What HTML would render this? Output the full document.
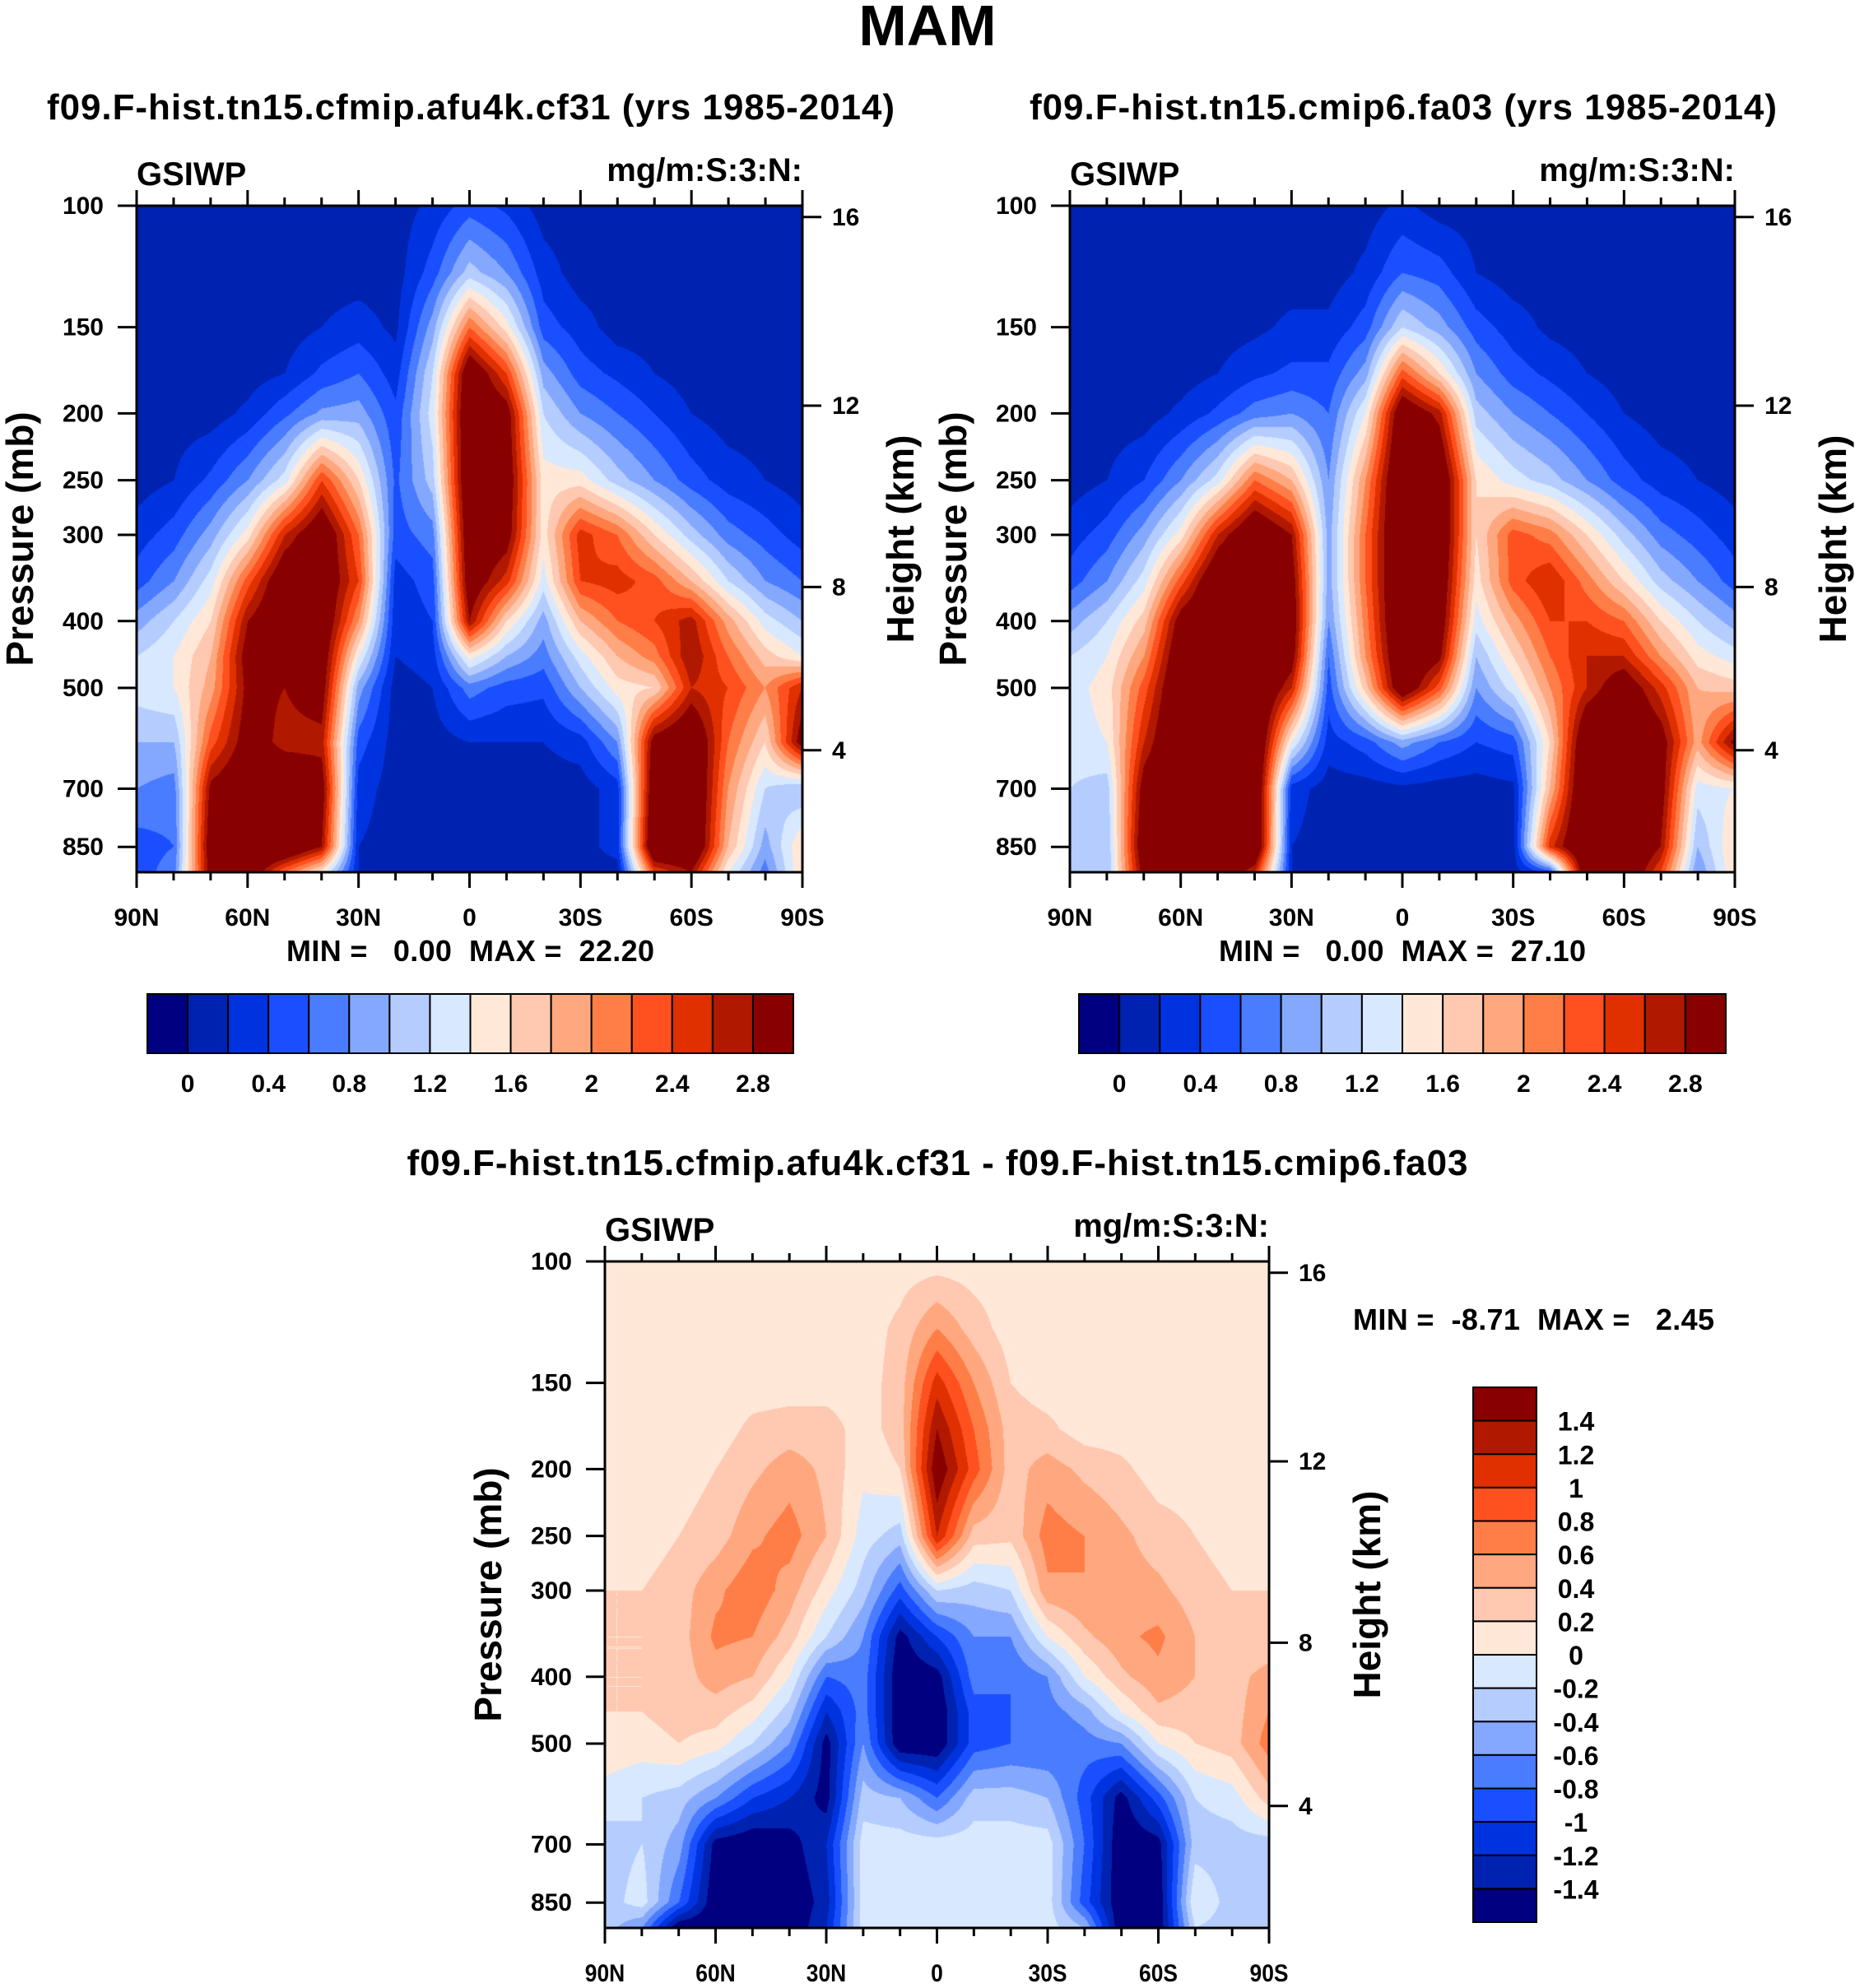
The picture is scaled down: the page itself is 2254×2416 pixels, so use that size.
<!DOCTYPE html>
<html><head><meta charset="utf-8"><style>
html,body{margin:0;padding:0;background:#fff;}
#wrap{position:relative;width:2254px;height:2416px;overflow:hidden;background:#fff;font-family:"Liberation Sans",sans-serif;}
canvas{position:absolute;}
#overlay{position:absolute;left:0;top:0;}
text{font-family:"Liberation Sans",sans-serif;font-weight:bold;fill:#000;}
</style></head><body>
<div id="wrap">
<canvas id="c1"></canvas>
<canvas id="c2"></canvas>
<canvas id="c3"></canvas>
<svg id="overlay" width="2254" height="2416"></svg>
</div>
<script>
const lats=[90,80,70,60,50,40,30,20,10,0,-10,-20,-30,-40,-50,-60,-70,-80,-90];
const pressures=[100,125,150,175,200,250,300,350,400,450,500,600,700,850,925];
const pressureTicks=[100,150,200,250,300,400,500,700,850];
const latTickLabels=["90N","60N","30N","0","30S","60S","90S"];
const heightTickLabels=["16","12","8","4"];
const topLevels=[0,0.2,0.4,0.6,0.8,1.0,1.2,1.4,1.6,1.8,2.0,2.2,2.4,2.6,2.8];
const topLevelLabels=["0","0.4","0.8","1.2","1.6","2","2.4","2.8"];
const diffLevels=[-1.4,-1.2,-1.0,-0.8,-0.6,-0.4,-0.2,0,0.2,0.4,0.6,0.8,1.0,1.2,1.4];
const diffLevelLabels=["1.4","1.2","1","0.8","0.6","0.4","0.2","0","-0.2","-0.4","-0.6","-0.8","-1","-1.2","-1.4"];
const palette=["#000080","#0022b0","#0033e0","#1a4fff","#4a7cff","#85a8ff","#b5ccff","#d8e8ff","#ffe8d8","#ffc8b0","#ffa880","#ff7e48","#ff5020","#e03000","#b01800","#880000"];
const valuesCf31=[
[.1,.1,.1,.1,.1,.1,.1,.1,.25,.5,.35,.1,.1,.1,.1,.1,.1,.1,.1],
[.1,.1,.1,.1,.1,.1,.1,.1,.5,1.1,.8,.3,.1,.1,.1,.1,.1,.1,.1],
[.1,.1,.1,.1,.1,.2,.3,.15,.9,2.2,1.5,.5,.3,.1,.1,.1,.1,.1,.1],
[.1,.1,.1,.1,.2,.45,.6,.3,1.2,3.2,2.4,.9,.5,.35,.2,.1,.1,.1,.1],
[.1,.1,.1,.25,.55,.85,.9,.45,1.3,3.3,3.0,1.2,.8,.6,.4,.2,.1,.1,.1],
[.1,.2,.45,.8,1.3,2.4,1.6,.55,1.1,3.3,3.1,1.5,1.5,1.1,.8,.5,.3,.2,.1],
[.3,.5,.9,1.5,2.6,3.2,2.2,.5,.7,3.2,3.0,1.5,2.5,2.2,1.6,1.1,.7,.5,.3],
[.5,.8,1.3,2.3,3.2,3.2,2.4,.3,.5,3.1,2.5,1.3,2.4,2.5,2.3,1.8,1.2,.8,.6],
[.9,1.2,1.6,2.8,3.3,3.2,2.0,.25,.4,2.8,1.6,.9,1.8,2.2,2.4,2.7,1.9,1.3,1.0],
[1.2,1.4,1.8,3.0,3.2,3.1,1.4,.2,.3,1.5,1.0,.7,1.3,1.8,2.1,2.8,2.2,1.7,1.4],
[1.3,1.4,1.9,2.9,2.8,3.0,0.9,.1,.2,.7,.5,.45,1.0,1.5,1.6,2.6,2.4,2.0,2.6],
[1.0,1.0,2.3,3.0,2.7,2.7,.5,.1,.1,.2,.2,.2,.3,.8,3.0,3.3,2.2,1.6,3.0],
[.8,.7,2.9,3.2,3.2,3.0,.3,.1,.1,.1,.1,.1,.1,.3,3.2,3.4,2.0,1.2,1.0],
[.5,.6,3.1,3.4,3.4,2.8,.2,.1,.1,.1,.1,.1,.1,.3,3.4,3.4,1.8,.9,1.6],
[.5,.7,3.0,3.2,2.2,1.5,.2,.1,.1,.1,.1,.1,.1,.1,2.4,2.8,1.4,.7,1.6]];
const valuesFa03=[
[.1,.1,.1,.1,.1,.1,.1,.1,.1,.25,.1,.1,.1,.1,.1,.1,.1,.1,.1],
[.1,.1,.1,.1,.1,.1,.1,.1,.25,.6,.5,.2,.1,.1,.1,.1,.1,.1,.1],
[.1,.1,.1,.1,.1,.15,.25,.25,.5,1.2,.9,.5,.3,.15,.1,.1,.1,.1,.1],
[.1,.1,.1,.1,.2,.35,.45,.45,.9,2.3,1.6,.8,.5,.35,.2,.1,.1,.1,.1],
[.1,.1,.1,.25,.45,.7,.8,.6,1.4,3.2,2.7,1.1,.8,.6,.4,.2,.1,.1,.1],
[.1,.2,.4,.8,1.3,2.2,1.8,.8,2.0,3.4,3.3,1.6,1.3,1.1,.8,.5,.3,.2,.1],
[.3,.5,.9,1.5,2.6,3.3,2.8,.9,2.2,3.4,3.3,1.6,2.3,2.1,1.6,1.1,.7,.5,.3],
[.5,.8,1.3,2.3,3.3,3.4,3.0,.9,2.2,3.4,3.2,1.5,2.3,2.6,2.1,1.6,1.1,.8,.5],
[.9,1.2,1.7,3.0,3.4,3.4,3.1,.8,2.1,3.4,3.1,1.3,1.9,2.4,2.4,2.2,1.6,1.2,.9],
[1.2,1.4,2.0,3.2,3.4,3.4,3.0,.6,2.0,3.3,2.9,1.0,1.6,2.2,2.6,2.6,2.0,1.5,1.3],
[1.3,1.5,2.3,3.3,3.4,3.4,2.6,.5,1.7,3.2,2.3,.8,1.3,2.0,2.6,3.1,2.5,1.8,1.7],
[1.3,1.4,2.6,3.4,3.4,3.4,1.4,.3,.5,.9,.6,.4,.5,1.6,3.3,3.4,3.0,1.9,2.9],
[1.2,1.1,3.0,3.4,3.4,3.4,.3,.1,.1,.15,.1,.1,.15,1.8,3.4,3.4,3.0,1.3,1.4],
[1.0,1.0,3.2,3.4,3.4,3.4,.2,.1,.1,.1,.1,.1,.1,2.5,3.4,3.4,2.8,1.0,1.6],
[1.0,1.0,3.0,3.4,3.3,2.6,.2,.1,.1,.1,.1,.1,.1,.5,3.3,3.3,2.4,.8,1.6]];
const valuesDiff=[
[.1,.1,.1,.1,.1,.1,.1,.1,.1,.1,.1,.1,.1,.1,.1,.1,.1,.1,.1],
[.1,.1,.1,.1,.1,.1,.1,.1,.25,.6,.3,.1,.1,.1,.1,.1,.1,.1,.1],
[.1,.1,.1,.1,.1,.1,.1,.1,.3,1.1,.6,.2,.1,.1,.1,.1,.1,.1,.1],
[.1,.1,.1,.1,.25,.3,.3,.1,.3,1.4,.8,.3,.25,.1,.1,.1,.1,.1,.1],
[.1,.1,.1,.2,.35,.5,.35,.05,.2,1.6,.9,.3,.5,.35,.25,.1,.1,.1,.1],
[.1,.1,.2,.3,.55,.7,.4,-.1,-.3,1.2,.3,.25,.7,.6,.45,.3,.2,.1,.1],
[.2,.2,.3,.55,.75,.5,.1,-.3,-.9,-.2,-.3,-.2,.55,.6,.5,.45,.3,.2,.2],
[.2,.2,.3,.65,.6,.3,-.2,-.6,-1.5,-1.0,-.6,-.6,.0,.35,.55,.65,.4,.2,.2],
[.2,.2,.3,.5,.4,.0,-.8,-.7,-1.6,-1.5,-.7,-.8,-.6,0,.35,.55,.4,.3,.5],
[.2,.2,.3,.3,.1,-.3,-1.2,-.7,-1.6,-1.6,-.9,-.8,-.7,-.5,0,.35,.3,.3,.6],
[.15,.1,.2,.1,-.2,-.6,-1.5,-.6,-1.6,-1.6,-.9,-.8,-.8,-.7,-.6,0,.2,.3,.7],
[-.1,-.2,-.3,-.6,-1.0,-1.2,-1.5,-.3,-.4,-.8,-.3,-.3,-.4,-.9,-1.5,-.9,-.2,-.1,.3],
[-.3,-.2,-.5,-1.5,-1.6,-1.5,-1.2,-.1,-.1,-.1,-.1,-.1,-.1,-.8,-1.6,-1.5,-.3,-.3,-.3],
[-.3,-.1,-.8,-1.6,-1.6,-1.6,-1.3,-.1,-.1,-.1,-.1,-.1,-.1,-.9,-1.6,-1.6,.0,-.3,-.3],
[-.3,-.6,-1.6,-1.6,-1.6,-1.6,-1.2,-.1,-.1,-.1,-.1,-.1,-.1,-.4,-1.6,-1.6,-.2,-.3,-.3]];

const NS='http://www.w3.org/2000/svg';
const svg=document.getElementById('overlay');
const P_TOP=100,P_BOT=925;
const heightFrac=[0.017,0.300,0.572,0.817];
function el(tag,parent){const e=document.createElementNS(NS,tag);(parent||svg).appendChild(e);return e;}
function set(e,o){for(const k in o)e.setAttribute(k,o[k]);return e;}
function txt(s,x,y,size,anchor,parent){const t=el('text',parent);set(t,{x:x,y:y,'font-size':size,'text-anchor':anchor||'start'});t.textContent=s;return t;}
function hex(c){return [parseInt(c.substr(1,2),16),parseInt(c.substr(3,2),16),parseInt(c.substr(5,2),16)];}
const palRGB=palette.map(hex);
function levelIndex(v,levels){let i=0;while(i<levels.length&&v>=levels[i])i++;return i;}

function drawField(id,px,py,W,H,data,levels){
  const c=document.getElementById(id);c.width=W;c.height=H;c.style.left=px+'px';c.style.top=py+'px';
  const ctx=c.getContext('2d');const img=ctx.createImageData(W,H);
  const lp=pressures.map(Math.log);const l0=Math.log(P_TOP),l1=Math.log(P_BOT);
  for(let y=0;y<H;y++){
    const l=l0+(y/(H-1))*(l1-l0);
    let r=0;while(r<lp.length-2&&l>lp[r+1])r++;
    const ty=Math.min(1,Math.max(0,(l-lp[r])/(lp[r+1]-lp[r])));
    for(let x=0;x<W;x++){
      const fx=x/(W-1)*(lats.length-1);let i=Math.min(Math.floor(fx),lats.length-2);const tx=fx-i;
      const v=(data[r][i]*(1-tx)+data[r][i+1]*tx)*(1-ty)+(data[r+1][i]*(1-tx)+data[r+1][i+1]*tx)*ty;
      const col=palRGB[levelIndex(v,levels)];const o=(y*W+x)*4;
      img.data[o]=col[0];img.data[o+1]=col[1];img.data[o+2]=col[2];img.data[o+3]=255;
    }
  }
  ctx.putImageData(img,0,0);
}
function yOfP(p,py,H){return py+(Math.log(p)-Math.log(P_TOP))/(Math.log(P_BOT)-Math.log(P_TOP))*H;}
function xOfLat(lat,px,W){return px+(90-lat)/180*W;}

function axes(px,py,W,H,cond){
  const g=el('g');
  
  
  const fs=30;
  set(el('rect',g),{x:px,y:py,width:W,height:H,fill:'none',stroke:'#000','stroke-width':3});
  for(let lat=90;lat>=-90;lat-=10){
    const x=xOfLat(lat,px,W);const major=lat%30===0;const L=major?19:10;
    set(el('line',g),{x1:x,y1:py,x2:x,y2:py-L,stroke:'#000','stroke-width':3});
    set(el('line',g),{x1:x,y1:py+H,x2:x,y2:py+H+L,stroke:'#000','stroke-width':3});
  }
  latTickLabels.forEach((s,k)=>{const xx=xOfLat(90-30*k,px,W);const t=txt(s,xx,py+H+65,fs,'middle',g);
    
    
    if(cond)t.setAttribute('transform','translate('+xx+',0) scale(0.88,1) translate('+(-xx)+',0)');});
  pressureTicks.forEach(p=>{const y=yOfP(p,py,H);
    set(el('line',g),{x1:px,y1:y,x2:px-23,y2:y,stroke:'#000','stroke-width':3});
    const t=txt(String(p),px-40,y+10,fs,'end',g);
    
    });
  heightTickLabels.forEach((s,k)=>{const y=py+heightFrac[k]*H;
    set(el('line',g),{x1:px+W,y1:y,x2:px+W+23,y2:y,stroke:'#000','stroke-width':3});
    const t=txt(s,px+W+36,y+10,fs,'start',g);
    
    });
  const gs=txt('GSIWP',px,py-25,40,'start',g);
  
  
  const un=txt('mg/m:S:3:N:',px+W,py-30,40,'end',g);
  
  
  const yt=txt('Pressure (mb)',0,0,46,'middle',g);
  set(yt,{transform:'translate('+(px-126)+','+(py+H/2)+') rotate(-90)'});
  
  
  const ht=txt('Height (km)',0,0,46,'middle',g);
  set(ht,{transform:'translate('+(px+W+135)+','+(py+H/2)+') rotate(-90)'});
  
  
}
function hColorbar(x0,y0,W,H){
  const g=el('g');
  
  
  const bw=W/palette.length;
  palette.forEach((c,i)=>{const r=el('rect',g);set(r,{x:x0+i*bw,y:y0,width:bw,height:H,fill:c,stroke:'#000','stroke-width':2});
    
    });
  topLevelLabels.forEach((s,k)=>{const t=txt(s,x0+(1+2*k)*bw,y0+H+47,30,'middle',g);
    
    });
}
function vColorbar(x0,y0,W,H){
  const g=el('g');
  
  
  const bh=H/palette.length;
  palette.slice().reverse().forEach((c,i)=>{const r=el('rect',g);set(r,{x:x0,y:y0+i*bh,width:W,height:bh,fill:c,stroke:'#000','stroke-width':2});
    
    });
  diffLevelLabels.forEach((s,k)=>{const t=txt(s,x0+W+48,y0+(k+1)*bh+12,32,'middle',g);
    
    });
}

drawField('c1',166,250,809,810,valuesCf31,topLevels);
drawField('c2',1300,250,808,810,valuesFa03,topLevels);
drawField('c3',735,1533,807,810,valuesDiff,diffLevels);
axes(166,250,809,810,false);
axes(1300,250,808,810,false);
axes(735,1533,807,810,true);
hColorbar(179,1208,785,72);
hColorbar(1311,1208,786,72);
vColorbar(1790,1686,77,650);

const t0=txt('MAM',1127,55,70,'middle');


const t1=txt('f09.F-hist.tn15.cfmip.afu4k.cf31 (yrs 1985-2014)',572,145,44,'middle');


t1.setAttribute('textLength','1030');
const t2=txt('f09.F-hist.tn15.cmip6.fa03 (yrs 1985-2014)',1705,145,44,'middle');


t2.setAttribute('textLength','908');
const t3=txt('f09.F-hist.tn15.cfmip.afu4k.cf31 - f09.F-hist.tn15.cmip6.fa03',1139,1428,44,'middle');


t3.setAttribute('textLength','1289');
const m1=txt('MIN =   0.00  MAX =  22.20',348,1168,36,'start');


m1.setAttribute('textLength','447');
const m2=txt('MIN =   0.00  MAX =  27.10',1481,1168,36,'start');


m2.setAttribute('textLength','446');
const m3=txt('MIN =  -8.71  MAX =   2.45',1644,1616,36,'start');


m3.setAttribute('textLength','439');
[m1,m2,m3].forEach(m=>m.setAttribute('style','white-space:pre'));
</script>
</body></html>
